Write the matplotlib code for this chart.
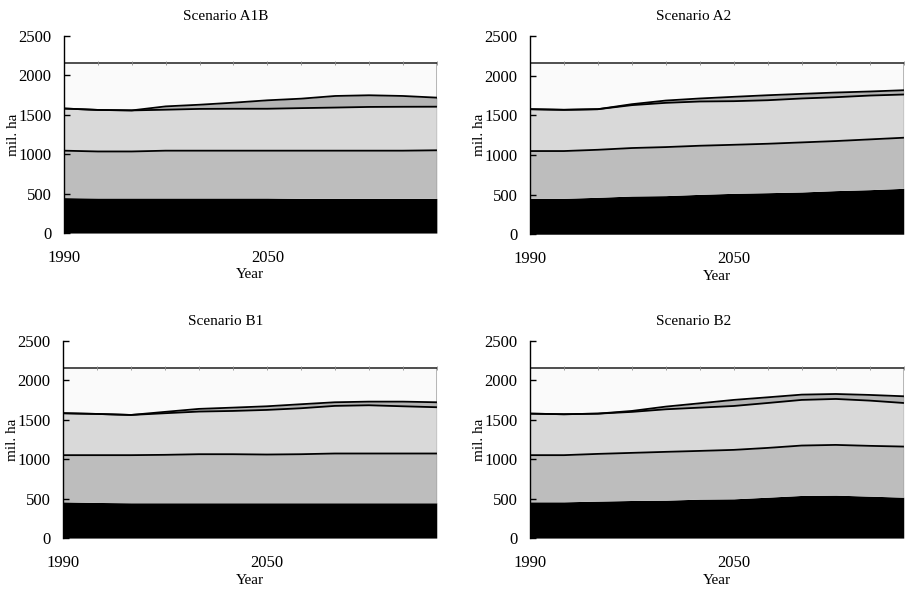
import numpy as np
import matplotlib
matplotlib.use("Agg")
import matplotlib.pyplot as plt

plt.rcParams['font.family'] = ['Liberation Serif', 'DejaVu Serif']

# decades 1990..2100
years = [1990, 2000, 2010, 2020, 2030, 2040, 2050, 2060, 2070, 2080, 2090, 2100]
total_land = [2160] * 12

# cumulative boundaries (mil. ha), bottom layer first
a1b_black = [450, 445, 445, 445, 445, 445, 445, 440, 440, 440, 440, 440]
a1b_gray = [1045, 1035, 1035, 1045, 1045, 1045, 1045, 1045, 1045, 1045, 1045, 1050]
a1b_light = [1580, 1562, 1556, 1565, 1575, 1577, 1577, 1585, 1592, 1600, 1602, 1603]
a1b_thin = [1580, 1562, 1556, 1607, 1628, 1654, 1684, 1705, 1739, 1748, 1739, 1718]

a2_black = [453, 453, 466, 482, 487, 503, 516, 524, 533, 550, 562, 579]
a2_gray = [1049, 1049, 1065, 1087, 1099, 1116, 1128, 1141, 1158, 1175, 1196, 1217]
a2_light = [1577, 1569, 1577, 1628, 1657, 1674, 1678, 1690, 1712, 1728, 1749, 1762]
a2_thin = [1577, 1569, 1577, 1640, 1686, 1712, 1733, 1753, 1770, 1787, 1800, 1816]

b1_black = [460, 452, 448, 448, 448, 448, 448, 448, 448, 448, 448, 448]
b1_gray = [1052, 1052, 1052, 1056, 1064, 1064, 1060, 1064, 1073, 1073, 1073, 1073]
b1_light = [1584, 1575, 1562, 1584, 1605, 1613, 1626, 1647, 1677, 1685, 1672, 1660]
b1_thin = [1584, 1575, 1562, 1601, 1639, 1655, 1672, 1698, 1723, 1731, 1731, 1723]

b2_black = [460, 460, 469, 477, 481, 494, 498, 519, 541, 545, 532, 519]
b2_gray = [1052, 1052, 1068, 1081, 1094, 1106, 1119, 1144, 1174, 1182, 1170, 1161]
b2_light = [1579, 1571, 1579, 1601, 1634, 1655, 1676, 1714, 1753, 1765, 1744, 1714]
b2_thin = [1579, 1571, 1579, 1613, 1668, 1710, 1753, 1786, 1820, 1828, 1816, 1799]

scenarios = [
    ("Scenario A1B", [a1b_black, a1b_gray, a1b_light, a1b_thin]),
    ("Scenario A2", [a2_black, a2_gray, a2_light, a2_thin]),
    ("Scenario B1", [b1_black, b1_gray, b1_light, b1_thin]),
    ("Scenario B2", [b2_black, b2_gray, b2_light, b2_thin]),
]

fills = ['#000000', '#bdbdbd', '#d9d9d9', '#b4b4b4', '#fafafa']

fig = plt.figure(figsize=(9.05, 5.9), dpi=100)
# axes boxes in figure fractions, plus title x centre
boxes = [
    (0.0707, 0.605, 0.412, 0.334, 0.249),
    (0.5856, 0.603, 0.413, 0.336, 0.766),
    (0.0696, 0.088, 0.413, 0.334, 0.249),
    (0.5856, 0.088, 0.413, 0.334, 0.766),
]

for (title, bounds), (l, b, w, h, tx) in zip(scenarios, boxes):
    ax = fig.add_axes([l, b, w, h])
    x = np.array(years)
    levels = [np.zeros(len(x))] + [np.array(v, float) for v in bounds] + [np.array(total_land, float)]
    for i in range(5):
        ax.fill_between(x, levels[i], levels[i + 1], color=fills[i], lw=0, zorder=1)
    for lev in levels[2:5]:
        ax.plot(x, lev, color='black', lw=1.3, zorder=3)
    ax.plot(x, levels[5], color='0.25', lw=1.3, zorder=3)
    ax.plot(x, levels[5], color='0.55', lw=0, marker='|', ms=3, mew=0.6, zorder=4)
    ax.plot([x[-1], x[-1]], [levels[1][-1], levels[5][-1]], color='0.3', lw=0.9, zorder=3)
    ax.plot([x[-1], x[-1]], [levels[4][-1], levels[5][-1]], color='black', lw=1.0, zorder=3)

    ax.set_xlim(1990, 2100)
    ax.set_ylim(0, 2500)
    ax.set_xticks([1990, 2050])
    ax.set_yticks([0, 500, 1000, 1500, 2000, 2500])
    for s in ['top', 'right', 'bottom']:
        ax.spines[s].set_visible(False)
    ax.spines['left'].set_linewidth(1.0)
    ax.spines['left'].set_zorder(5)
    ax.tick_params(axis='y', direction='in', length=4, width=1, pad=9, labelsize=12)
    ax.tick_params(axis='x', length=0, pad=12, labelsize=12)
    ax.set_xlabel("Year", fontsize=11, labelpad=2)
    ax.set_ylabel("mil. ha", fontsize=11, labelpad=-1.5)
    fig.text(tx, b + h + 0.022, title, ha='center', va='bottom', fontsize=11)

fig.savefig("out.png", dpi=100)
